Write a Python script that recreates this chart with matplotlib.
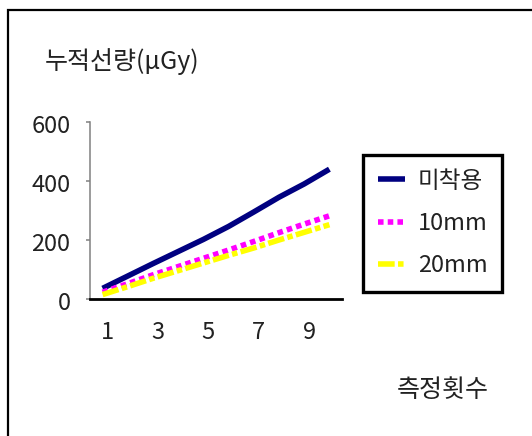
import matplotlib
matplotlib.use("Agg")
import matplotlib.pyplot as plt
import matplotlib.transforms as mtransforms
from matplotlib.patches import Rectangle

plt.rcParams['font.family'] = ['Noto Sans CJK KR', 'DejaVu Sans']

# 측정횟수 1..10 에 대한 누적선량 (μGy)
counts = [1, 2, 3, 4, 5, 6, 7, 8, 9, 10]
no_shield = [36, 78, 120, 161, 202, 246, 295, 345, 390, 440]
shield_10mm = [23, 52, 82, 110, 138, 166, 195, 225, 254, 282]
shield_20mm = [15, 42, 70, 96, 122, 148, 173, 200, 226, 252]
series_names = ['미착용', '10mm', '20mm']
x_tick_values = [1, 3, 5, 7, 9]
y_tick_values = [0, 200, 400, 600]

W, H = 532, 436
fig = plt.figure(figsize=(W / 100, H / 100), dpi=100)
fig.patch.set_facecolor('white')

# outer frame (runs past the right and bottom edges)
fig.patches.append(Rectangle((8 / W, -0.1), 1.2, 1 - 10 / H + 0.1,
                             transform=fig.transFigure, fill=False,
                             edgecolor='black', linewidth=1.6))

ax = fig.add_axes([90 / W, 1 - 299 / H, (342 - 90) / W, (299 - 122) / H])
ax.set_facecolor('none')

ax.plot(counts, no_shield, color='#000080', linewidth=4.0,
        solid_capstyle='butt', label=series_names[0])
ax.plot(counts, shield_10mm, color='#FF00FF', linewidth=4.0,
        dashes=(1, 0.75), dash_capstyle='butt', label=series_names[1])
ax.plot(counts, shield_20mm, color='#FFFF00', linewidth=4.0,
        dashes=(3, 0.6, 1, 0.6), dash_capstyle='butt', label=series_names[2])

ax.set_xlim(0.5, 10.5)
ax.set_ylim(0, 600)
ax.set_xticks(x_tick_values)
ax.set_yticks(y_tick_values)

for s in ('top', 'right'):
    ax.spines[s].set_visible(False)
ax.spines['left'].set_color('#808080')
ax.spines['left'].set_linewidth(1.1)
ax.spines['bottom'].set_color('black')
ax.spines['bottom'].set_linewidth(2.0)

ax.tick_params(axis='x', length=0, pad=16, labelsize=17, colors='#222222')
ax.tick_params(axis='y', length=3, width=1.1, color='#808080',
               pad=11, labelsize=17, labelcolor='#222222')

offset = mtransforms.ScaledTranslation(5 / 100, 0, fig.dpi_scale_trans)
for lbl in ax.get_xticklabels():
    lbl.set_transform(lbl.get_transform() + offset)
yoff = mtransforms.ScaledTranslation(0, -2 / 100, fig.dpi_scale_trans)
for lbl in ax.get_yticklabels():
    lbl.set_transform(lbl.get_transform() + yoff)

leg = ax.legend(loc='upper left', bbox_to_anchor=(363 / W, 1 - 155 / H),
                bbox_transform=fig.transFigure, fontsize=17, frameon=True,
                fancybox=False, framealpha=1.0, handlelength=1.15,
                handletextpad=0.55, borderpad=0.62, labelspacing=0.82,
                borderaxespad=0)
leg.get_frame().set_edgecolor('black')
leg.get_frame().set_linewidth(2.4)
for t in leg.get_texts():
    t.set_color('#222222')

fig.text(45 / W, 1 - 62 / H, '누적선량(μGy)', fontsize=18, color='#222222',
         ha='left', va='center')
fig.text(397 / W, 1 - 390 / H, '측정횟수', fontsize=18, color='#222222',
         ha='left', va='center')

fig.savefig('out.png', dpi=100)
